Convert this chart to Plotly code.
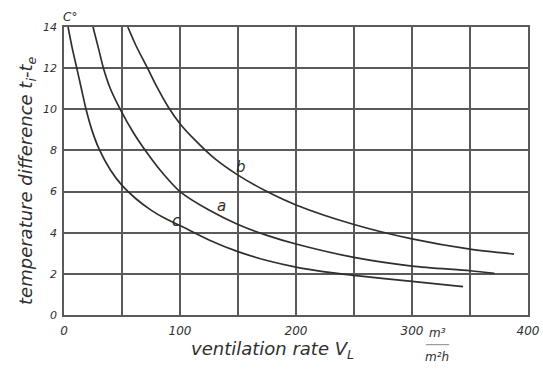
import plotly.graph_objects as go

# ---- data ----
curve_c_x = [3.5, 7, 11, 15, 19, 24, 30, 40, 50, 62, 75, 87, 100, 125, 150, 175, 200, 225, 250, 300, 344]
curve_c_y = [14, 13, 12, 11, 10, 9.0, 8.1, 7.05, 6.3, 5.65, 5.1, 4.7, 4.35, 3.65, 3.08, 2.65, 2.33, 2.1, 1.93, 1.63, 1.38]

curve_a_x = [25, 30, 34, 40, 48.5, 60, 72, 85, 100, 125, 150, 175, 200, 250, 300, 350, 371]
curve_a_y = [14, 12.9, 12, 11, 10, 8.85, 7.85, 6.9, 6.0, 5.1, 4.4, 3.87, 3.45, 2.8, 2.38, 2.15, 2.02]

curve_b_x = [55, 62, 72, 80, 90, 100, 113, 130, 150, 175, 200, 250, 300, 350, 388]
curve_b_y = [14, 13.1, 12, 11.1, 10.1, 9.3, 8.5, 7.6, 6.8, 6.0, 5.35, 4.4, 3.7, 3.2, 2.96]

curve_names = ["c", "a", "b"]
label_pos = {"b": (153, 7.2), "a": (136, 5.3), "c": (97, 4.55)}

x_tick_vals = [0, 100, 200, 300, 400]
x_tick_labels = ["0", "100", "200", "300", "400"]
x_minor_grid = [50, 150, 250, 350]
y_tick_vals = [0, 2, 4, 6, 8, 10, 12, 14]
y_tick_labels = ["0", "2", "4", "6", "8", "10", "12", "14"]

INK = "#2f2f2f"
GRID = "#5a5a5a"
FONT = "DejaVu Sans"

fig = go.Figure()
for name, xs, ys in [("c", curve_c_x, curve_c_y),
                     ("a", curve_a_x, curve_a_y),
                     ("b", curve_b_x, curve_b_y)]:
    fig.add_trace(go.Scatter(x=xs, y=ys, mode="lines", name=name,
                             line=dict(color=INK, width=1.7, shape="spline", smoothing=0.8),
                             showlegend=False, cliponaxis=True))

for name in curve_names:
    lx, ly = label_pos[name]
    fig.add_annotation(x=lx, y=ly, text=name, showarrow=False, xref="x", yref="y",
                       font=dict(family=FONT, size=15, color=INK, style="italic"))

fig.update_xaxes(range=[0, 400], tickmode="array", tickvals=x_tick_vals, ticktext=x_tick_labels,
                 showgrid=True, gridcolor=GRID, gridwidth=1.5, zeroline=False, automargin=False,
                 minor=dict(tickmode="array", tickvals=x_minor_grid, showgrid=True,
                            gridcolor=GRID, gridwidth=1.5, ticks=""),
                 showline=True, linecolor=GRID, linewidth=1.5, mirror=True, ticks="",
                 tickfont=dict(family=FONT, size=12, color=INK, style="italic"),
                 ticklabelstandoff=4)
fig.update_yaxes(range=[0, 14], tickmode="array", tickvals=y_tick_vals, ticktext=y_tick_labels,
                 showgrid=True, gridcolor=GRID, gridwidth=1.5, zeroline=False, automargin=False,
                 showline=True, linecolor=GRID, linewidth=1.5, mirror=True, ticks="",
                 tickfont=dict(family=FONT, size=11, color=INK, style="italic"),
                 ticklabelstandoff=3)

# axis titles as annotations
fig.add_annotation(xref="paper", yref="paper", x=-0.08, y=0.465, textangle=-90,
                   xanchor="center", yanchor="middle",
                   text="temperature difference t<sub>i</sub>-t<sub>e</sub>", showarrow=False,
                   font=dict(family=FONT, size=18, color=INK, style="italic"))
fig.add_annotation(xref="paper", yref="paper", x=0.012, y=1.035, yanchor="middle", xanchor="center",
                   text="C°", showarrow=False,
                   font=dict(family=FONT, size=12, color=INK, style="italic"))
fig.add_annotation(xref="paper", yref="paper", x=0.27, y=-0.122, xanchor="left", yanchor="middle",
                   text="ventilation rate V<sub>L</sub>", showarrow=False,
                   font=dict(family=FONT, size=18, color=INK, style="italic"))
fig.add_annotation(xref="paper", yref="paper", x=0.804, y=-0.062, xanchor="center", yanchor="middle",
                   text="m³", showarrow=False,
                   font=dict(family=FONT, size=12, color=INK, style="italic"))
fig.add_annotation(xref="paper", yref="paper", x=0.804, y=-0.145, xanchor="center", yanchor="middle",
                   text="m²h", showarrow=False,
                   font=dict(family=FONT, size=12, color=INK, style="italic"))
fig.add_shape(type="line", xref="paper", yref="paper", x0=0.78, x1=0.83, y0=-0.103, y1=-0.103,
              line=dict(color="#888888", width=1))

fig.update_layout(width=543, height=372, margin=dict(l=64, r=15, t=27, b=57),
                  plot_bgcolor="white", paper_bgcolor="white")

fig.write_html("out.html", config={"displayModeBar": False},
               post_script="document.body.style.margin='0';document.body.style.overflow='hidden';")
